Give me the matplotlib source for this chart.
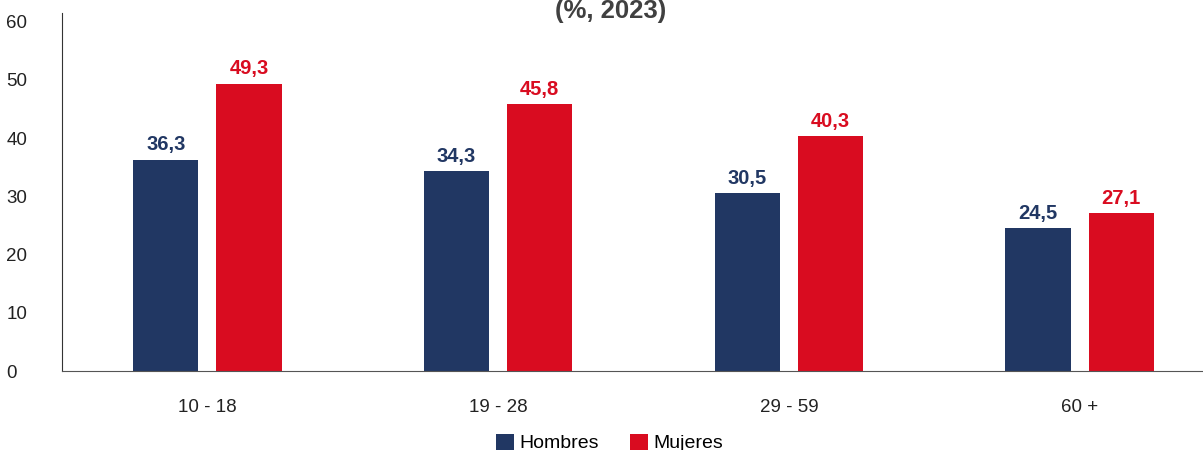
import numpy as np
import matplotlib.pyplot as plt

plt.rcParams['font.family'] = ['Liberation Sans', 'DejaVu Sans']

# data
grupos = ['10 - 18', '19 - 28', '29 - 59', '60 +']
hombres = [36.3, 34.3, 30.5, 24.5]
mujeres = [49.3, 45.8, 40.3, 27.1]

c_hom = '#213763'
c_muj = '#D90C20'

W, H = 1203, 450
fig = plt.figure(figsize=(W / 100, H / 100), dpi=100)
# axes goes a little past the right edge like the cropped original
ax = fig.add_axes([62 / W, 1 - 371 / H, (1225 - 62) / W, (371 - 13) / H])

x = np.arange(len(grupos))
bw = 0.224
off = 0.143
b1 = ax.bar(x - off, hombres, bw, color=c_hom, label='Hombres')
b2 = ax.bar(x + off, mujeres, bw, color=c_muj, label='Mujeres')

for bars, vals, col in [(b1, hombres, c_hom), (b2, mujeres, c_muj)]:
    for b, v in zip(bars, vals):
        ax.annotate(f'{v:.1f}'.replace('.', ','),
                    (b.get_x() + b.get_width() / 2, v),
                    xytext=(0, 4), textcoords='offset points',
                    ha='center', va='bottom', fontsize=14.5,
                    fontweight='bold', color=col)

ax.set_xlim(-0.5, 3.5)
ax.set_ylim(0, 61.5)
ax.set_yticks(range(0, 61, 10))
ax.set_xticks(x)
ax.set_xticklabels(grupos)
ax.tick_params(length=0, labelsize=13.5, colors='#222222')
ax.tick_params(axis='x', pad=20)
ax.tick_params(axis='y', pad=40)
for lbl in ax.get_yticklabels():
    lbl.set_horizontalalignment('left')
for s in ['top', 'right']:
    ax.spines[s].set_visible(False)
ax.spines['left'].set_color('#333333')
ax.spines['bottom'].set_color('#555555')

fig.text(611 / W, 1 - 18 / H, '(%, 2023)', ha='center', va='baseline',
         fontsize=18.5, fontweight='bold', color='#404040')

fig.legend(loc='center', bbox_to_anchor=(610 / W, 1 - 443 / H), ncol=2,
           frameon=False, fontsize=14, handlelength=0.9, handleheight=0.9,
           handletextpad=0.3, columnspacing=1.6)

fig.savefig('out.png', dpi=100)
